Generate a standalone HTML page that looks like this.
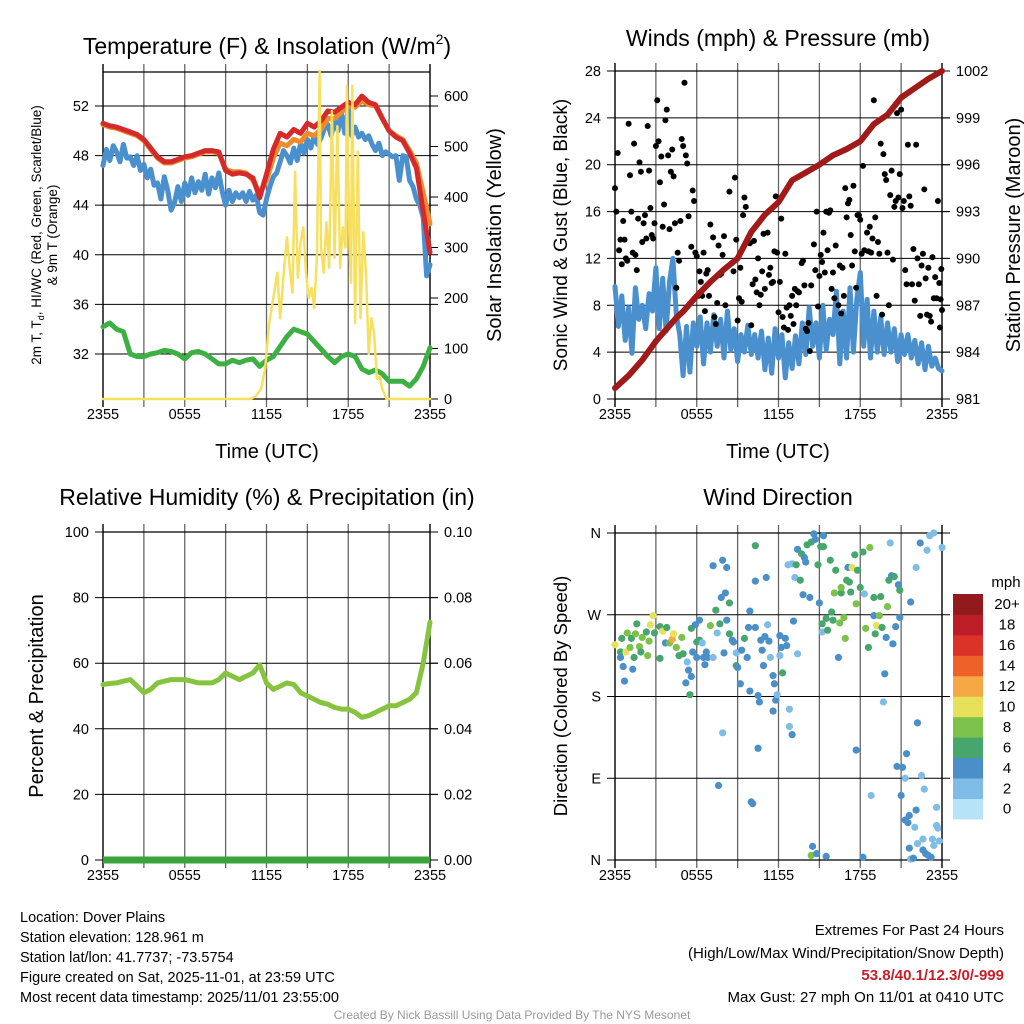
<!DOCTYPE html>
<html><head><meta charset="utf-8"><title>Mesonet Station Chart</title>
<style>
html,body{margin:0;padding:0;background:#fff;}
svg{display:block;font-family:"Liberation Sans",Arial,sans-serif;}
</style></head>
<body>
<svg id="chart" xmlns="http://www.w3.org/2000/svg" width="1024" height="1024" viewBox="0 0 1024 1024">
<rect x="0" y="0" width="1024" height="1024" fill="#fff"/>
<g id="layer"></g>

<text x="267" y="54" text-anchor="middle" font-size="23">Temperature (F) &amp; Insolation (W/m<tspan font-size="14" dy="-10">2</tspan><tspan dy="10">)</tspan></text>
<text transform="translate(41,235) rotate(-90)" text-anchor="middle" font-size="13.5">2m T, T<tspan font-size="9" dy="3">d</tspan><tspan dy="-3">, HI/WC (Red, Green, Scarlet/Blue)</tspan></text>
<text transform="translate(57,235) rotate(-90)" text-anchor="middle" font-size="13.5">&amp; 9m T (Orange)</text>
<text transform="translate(501,235) rotate(-90)" text-anchor="middle" font-size="20">Solar Insolation (Yellow)</text>
<text x="267" y="458" text-anchor="middle" font-size="20">Time (UTC)</text>

<text x="778" y="46" text-anchor="middle" font-size="23">Winds (mph) &amp; Pressure (mb)</text>
<text transform="translate(567,235) rotate(-90)" text-anchor="middle" font-size="19">Sonic Wind &amp; Gust (Blue, Black)</text>
<text transform="translate(1020,235) rotate(-90)" text-anchor="middle" font-size="20">Station Pressure (Maroon)</text>
<text x="778" y="458" text-anchor="middle" font-size="20">Time (UTC)</text>

<text x="267" y="505" text-anchor="middle" font-size="23">Relative Humidity (%) &amp; Precipitation (in)</text>
<text transform="translate(43,696) rotate(-90)" text-anchor="middle" font-size="20">Percent &amp; Precipitation</text>

<text x="778" y="505" text-anchor="middle" font-size="23">Wind Direction</text>
<text transform="translate(567,696) rotate(-90)" text-anchor="middle" font-size="18.5">Direction (Colored By Speed)</text>
<text x="1006" y="587" text-anchor="middle" font-size="15">mph</text>

<g font-size="14.5">
<text x="20" y="922">Location: Dover Plains</text>
<text x="20" y="942">Station elevation: 128.961 m</text>
<text x="20" y="962">Station lat/lon: 41.7737; -73.5754</text>
<text x="20" y="982">Figure created on Sat, 2025-11-01, at 23:59 UTC</text>
<text x="20" y="1002">Most recent data timestamp: 2025/11/01 23:55:00</text>
</g>
<g font-size="15" text-anchor="end">
<text x="1004" y="935">Extremes For Past 24 Hours</text>
<text x="1004" y="958">(High/Low/Max Wind/Precipitation/Snow Depth)</text>
<text x="1004" y="980" fill="#c8202a" font-weight="bold">53.8/40.1/12.3/0/-999</text>
<text x="1004" y="1002">Max Gust: 27 mph On 11/01 at 0410 UTC</text>
</g>
<text x="512" y="1019" text-anchor="middle" font-size="12" fill="#999">Created By Nick Bassill Using Data Provided By The NYS Mesonet</text>
</svg>
<script>
// ---- data (half-hour steps unless noted) ----
const timeTicks = ["2355","0555","1155","1755","2355"];
const tempTicks = [32,36,40,44,48,52];
const solarTicks = [0,100,200,300,400,500,600];
const windTicks = [0,4,8,12,16,20,24,28];
const presTicks = [981,984,987,990,993,996,999,1002];
const rhTicks = [0,20,40,60,80,100];
const precipTicks = ["0.00","0.02","0.04","0.06","0.08","0.10"];
const dirTicks = ["N","E","S","W","N"];
const speedBins = ["0","2","4","6","8","10","12","14","16","18","20+"];
const speedColors = ["#b6e3f7","#80bde6","#4a8fc8","#47a66c","#7cc14a","#e6e05a","#f5a843","#ee6128","#dc3328","#bd1d26","#921a1c"];

const tempRed = [50.6,50.4,50.3,50.1,49.9,49.7,49.3,48.6,47.9,47.5,47.5,47.7,47.9,48.0,48.2,48.4,48.4,48.3,46.8,46.5,46.6,46.5,46.2,44.6,46.5,48.5,49.8,49.5,50.1,49.8,50.6,50.3,50.8,51.6,51.5,51.9,52.3,52.1,52.8,52.3,52.1,51.0,50.0,49.5,49.2,48.2,47.0,43.5,40.2];
const tempOrange = [50.5,50.3,50.2,50.0,49.8,49.6,49.2,48.5,47.8,47.4,47.4,47.6,47.8,47.9,48.1,48.3,48.3,48.2,46.9,46.7,46.7,46.6,46.0,45.0,46.0,47.8,49.0,48.8,49.3,49.1,49.8,49.6,50.1,51.0,51.0,51.5,52.0,51.9,52.4,52.1,52.0,51.0,50.0,49.6,49.3,48.4,47.4,45.0,42.5];
const tempGreen = [34.2,34.5,34.0,33.8,32.0,31.8,31.8,32.0,32.1,32.3,32.2,32.0,31.6,32.1,32.2,32.0,31.6,31.2,31.2,31.5,31.3,31.5,31.6,31.0,31.5,31.8,32.6,33.4,34.0,33.8,33.6,33.0,32.4,31.8,31.3,31.8,32.0,31.8,30.8,30.5,30.7,30.4,29.8,29.8,29.8,29.4,30.0,31.0,32.5];
// quarter-hour steps
const tempBlue = [47.2,48.5,47.6,48.8,48.3,47.5,48.9,47.8,
 47.9,47.2,48.0,46.8,47.3,46.2,46.9,45.6,
 45.8,44.5,46.3,45.2,43.6,44.2,45.5,44.3,
 45.8,44.8,46.2,45.0,45.9,45.2,46.5,44.9,
 46.2,45.4,46.6,45.1,44.0,45.2,44.3,45.0,
 44.6,45.0,44.3,45.1,44.4,44.8,43.4,43.2,
 44.5,45.5,46.3,46.6,47.5,48.4,48.0,47.4,
 48.6,47.6,49.0,48.2,49.3,48.6,49.6,48.9,
 49.4,50.2,50.5,49.6,50.9,50.0,51.5,49.8,
 51.8,49.6,50.3,49.5,49.8,49.3,49.6,48.9,
 48.4,49.0,48.0,48.3,48.1,47.9,48.0,46.0,
 48.0,47.9,46.0,45.5,44.5,44.0,43.0,38.3,39.2];
const solarHours = [0,10.8,11.2,11.6,11.9,12.2,12.5,12.8,13.0,13.3,13.5,13.7,13.9,14.1,14.3,14.5,14.7,14.9,15.1,15.3,15.5,15.7,15.9,16.0,16.2,16.4,16.6,16.8,17.0,17.2,17.4,17.6,17.8,17.9,18.1,18.2,18.3,18.5,18.7,18.9,19.1,19.3,19.5,19.7,19.9,20.1,20.3,20.5,20.8,24];
const solarValues = [0,0,5,20,60,150,200,250,160,260,320,260,210,450,240,310,340,250,200,220,180,280,650,300,250,350,260,570,280,540,260,340,300,620,300,230,620,150,490,160,330,250,90,160,130,40,45,20,0,0];

// wind: quarter-hour steps
const windSpeed = [9.6,6.2,8.8,5.0,7.8,3.9,9.5,6.8,
 8.0,6.0,9.0,7.5,11.2,6.0,10.3,5.8,
 10.0,12.0,7.2,5.5,2.0,6.2,2.3,6.5,
 4.5,7.0,3.0,6.5,4.0,7.2,4.5,6.8,
 3.5,7.5,4.2,6.0,3.2,5.5,4.0,6.3,
 3.8,5.5,3.5,5.8,2.5,5.2,2.2,6.0,
 3.5,5.5,1.8,4.8,2.6,5.4,3.0,6.5,
 3.8,7.8,4.5,6.5,3.5,8.0,4.2,6.8,
 5.5,9.2,3.0,7.5,3.5,9.5,4.0,8.5,
 10.8,4.5,8.5,3.5,7.5,4.0,7.0,3.8,
 6.5,4.0,6.0,3.2,5.5,3.8,5.5,3.5,
 5.0,3.0,4.8,2.5,4.5,2.8,3.5,2.6,2.4];
const gustHours = [0,0.1,0.2,0.3,0.4,0.5,0.6,0.7,0.8,0.9,1.0,1.1,1.2,1.3,1.4,1.5,1.6,1.7,1.8,1.9,2.0,2.1,2.2,2.3,2.4,2.5,2.6,2.7,2.8,2.9,3.0,3.1,3.2,3.3,3.4,3.5,3.6,3.7,3.8,3.9,4.0,4.1,4.2,4.3,4.4,4.5,4.6,4.7,4.8,4.9,5.0,5.1,5.2,5.3,5.4,5.6,5.7,5.8,5.9,6.0,6.1,6.2,6.3,6.4,6.5,6.6,6.7,6.8,6.9,7.0,7.2,7.3,7.4,7.5,7.6,7.7,7.8,7.9,8.0,8.1,8.4,8.7,8.8,8.9,9.0,9.1,9.2,9.3,9.4,9.5,9.6,9.7,9.9,10.0,10.1,10.2,10.3,10.4,10.5,10.6,10.7,10.8,10.9,11.0,11.2,11.3,11.4,11.5,11.6,11.7,11.8,11.9,12.0,12.1,12.2,12.3,12.4,12.5,12.6,12.7,12.8,12.9,13.0,13.1,13.2,13.3,13.4,13.5,13.7,13.8,13.9,14.0,14.1,14.2,14.3,14.4,14.6,14.7,14.8,14.9,15.0,15.1,15.2,15.3,15.4,15.5,15.6,15.7,15.8,15.9,16.0,16.1,16.2,16.4,16.5,16.6,16.7,16.8,16.9,17.0,17.1,17.2,17.3,17.4,17.5,17.6,17.7,17.8,17.9,18.0,18.1,18.2,18.3,18.5,18.6,18.7,18.8,18.9,19.0,19.1,19.2,19.3,19.4,19.5,19.6,19.7,19.8,19.9,20.0,20.1,20.2,20.3,20.4,20.5,20.6,20.7,20.8,20.9,21.0,21.1,21.2,21.3,21.4,21.5,21.6,21.7,21.8,21.9,22.0,22.1,22.2,22.3,22.4,22.5,22.6,22.7,22.8,22.9,23.0,23.1,23.2,23.3,23.4,23.5,23.6,23.7,23.8,23.85,23.9,23.95,24.0];
const gustValues = [18,16,21,12.7,13.6,11.5,15.2,13.6,12,11.8,23.5,19.1,16,12.5,21.8,12.3,11,15.4,20.2,19.4,13.4,15,15.7,13.7,23.3,19.5,16.3,14,13.7,15,21.6,25.5,22,18.5,20.7,14.7,16.6,23.8,24.7,20.8,14.5,19.4,21.3,19,15,9.5,12.5,11.8,15.2,22.2,21.6,27,20.8,20.1,15.6,13,17.8,16.9,12.5,12.2,8.8,10.9,10,8.8,12.5,7.5,10.7,11,8.8,14.9,13.8,7,6.4,8.2,13.1,10.6,10.7,12.3,13.9,8,17.7,10.9,18.9,13.6,6.7,8.6,11.2,8.3,15.7,17.2,16.4,13.4,13.3,6.3,9.8,13.5,10.2,9.1,12,8,8.9,10.9,14.1,9.4,14.2,10.6,11.2,9.9,10,12.6,17.3,12.5,7.4,10,15.4,7,6.1,12.4,7.8,5.9,8,7.1,8.8,6.4,9.4,8,9.2,9.1,11.6,11.8,9.7,6,5.8,6.5,4.1,9.7,13.2,11,16,7.9,10.5,12.3,11.7,14.2,10.8,16,12.7,15.9,16.1,9.4,10.8,8.6,13.1,8,11.4,7.3,11.2,8.8,18,15.5,16.7,17,14,11.4,18.2,12.6,9.5,15.7,15.7,15.3,12.4,19.9,12.7,14.2,12.6,14.7,12.5,13.7,25.5,15.5,8.8,13.4,12.4,21.8,7.2,20.9,19.2,18.7,12.5,8,17.4,19.5,11.9,16.4,16.9,24.4,17.2,19.2,24.7,16.3,16.9,11,9.8,21.7,17.3,16.5,9.8,12.8,8.4,21.7,12,9.8,7.1,11.4,12.4,17.9,10.3,7.2,11.2,7.1,6.6,12.1,8.6,10.4,8.6,16.9,9.9,6.1,8.5,11.1,7.6,5.3,4.5,3.1];
const presHours = [0,1,2,3,4,4.5,5,6,7,8,9,10,11,12,13,14,15,16,17,18,19,20,21,22,23,24];
const presValues = [981.7,982.5,983.5,984.7,985.7,986.2,986.6,987.6,988.5,989.3,990.0,991.7,992.8,993.6,995.0,995.5,996.0,996.6,997.0,997.5,998.6,999.2,1000.3,1000.9,1001.5,1002.0];

const rhValues = [53.5,53.8,54,54.5,55,53,51,52,54,54.5,55,55,55,54.5,54,54,54,55,57,56,55,56,57,59.5,54,52,53,54,53.5,51,50,49,48,47.5,46.5,46,46,45,43.5,44,45,46,47,47,48,49,51,60,72.5];
const precipValues = [0,0,0,0,0,0,0,0,0,0,0,0,0,0,0,0,0,0,0,0,0,0,0,0,0];

const dirHours = [0,0.4,0.4,0.6,0.7,0.8,0.5,0.9,1.1,1.2,1.4,1.3,1.5,1.6,1.8,1.9,2.0,2.3,2.4,2.5,2.6,2.8,2.9,3.3,3.3,3.5,3.7,3.8,4.0,4.2,4.3,4.5,4.7,4.9,5.0,5.2,5.3,5.4,5.6,5.5,5.6,5.7,5.9,6.0,6.0,6.2,6.2,6.4,6.5,6.6,6.7,6.8,7.0,7.2,7.2,7.4,7.5,7.7,7.8,7.9,8.0,8.1,8.2,8.2,8.4,8.4,8.6,8.7,7.6,7.9,8.9,8.9,9.0,9.2,9.3,9.5,9.7,9.8,9.9,9.9,10.0,10.1,10.3,10.3,10.3,10.5,10.6,10.5,10.7,10.8,10.9,11.0,11.1,11.2,11.3,11.4,11.6,11.6,11.7,11.8,11.9,12.1,12.1,12.2,12.3,12.5,12.6,12.8,12.8,13.0,12.7,13.0,13.1,13.3,13.2,13.4,13.4,13.6,13.7,13.8,13.9,14.0,14.1,14.3,14.4,14.5,14.4,14.6,14.7,14.8,14.9,15.0,15.1,15.2,15.3,15.3,15.2,15.5,15.5,15.6,15.8,15.9,16.0,16.1,16.2,16.4,16.5,16.6,16.6,16.8,16.9,17.0,17.1,17.2,17.3,17.4,17.6,17.7,17.7,17.8,18.0,18.2,18.2,18.3,18.4,18.6,18.7,18.8,19.0,19.0,19.1,19.2,19.4,19.5,19.6,19.7,19.8,19.9,20.0,20.1,20.2,20.3,20.4,20.5,20.6,20.7,20.8,20.9,20.9,21.1,21.0,21.3,21.3,21.4,21.5,21.6,21.6,21.7,21.7,21.9,22.0,22.1,22.1,22.2,22.2,22.4,22.5,22.6,22.6,22.7,22.8,22.9,23.0,23.1,23.2,23.3,23.4,23.4,23.6,23.6,23.7,23.8,24.0];
const dirDegrees = [237,229,223,213,197,229,244,250,234,244,223,210,249,260,235,229,245,251,225,241,259,269,250,257,222,252,239,256,239,243,249,234,225,245,227,195,218,209,202,182,255,229,259,240,223,264,242,239,223,215,229,223,258,324,223,275,250,260,289,330,228,294,322,264,283,249,242,240,82,140,228,214,212,194,231,244,223,256,186,274,64,62,256,307,346,181,174,123,242,231,214,246,311,259,241,223,164,203,194,176,182,247,225,234,206,244,236,166,147,138,325,326,263,325,311,342,227,308,337,292,333,328,347,289,350,15,5,359,353,7,325,283,345,260,357,345,251,4,266,253,330,273,264,294,319,223,261,294,300,267,244,308,322,306,295,322,336,121,282,319,300,3,339,293,255,234,344,71,289,269,249,258,269,290,256,174,205,245,279,308,349,313,238,312,257,103,303,297,267,102,71,44,90,117,41,13,49,1,284,2,36,55,322,151,18,349,93,23,11,78,7,341,5,357,3,23,360,16,58,38,35,21,344];
const dirSpeeds = [11,7,5,5,5,11,7,9,9,7,7,5,9,7,9,7,9,7,9,9,11,11,7,7,7,11,5,7,9,13,11,9,7,9,7,5,3,5,5,7,7,5,5,7,5,5,7,3,5,5,5,5,9,5,3,7,3,7,5,5,5,5,5,5,7,7,5,5,5,3,3,7,5,5,5,7,5,5,5,5,5,5,5,5,7,5,5,5,5,5,5,5,5,3,5,3,5,5,5,5,3,5,3,5,7,5,5,3,3,5,3,3,5,7,3,5,3,7,7,5,5,5,7,5,7,5,9,5,5,5,7,5,7,7,5,7,3,5,7,7,7,7,7,9,7,5,9,7,9,9,9,7,5,7,7,11,7,5,9,7,7,5,7,3,9,7,9,3,7,5,7,11,9,7,7,3,5,5,9,7,3,5,5,7,5,5,5,7,5,5,5,5,3,5,5,5,5,3,5,5,3,5,3,5,3,5,3,3,5,3,5,3,5,3,5,3,3,3,3,3,3,3,3,3];

// ---- drawing ----
const NS = "http://www.w3.org/2000/svg";
const layer = document.getElementById('layer');
function mk(tag, attrs, parent){ const e=document.createElementNS(NS,tag); for(const k in attrs) e.setAttribute(k,attrs[k]); (parent||layer).appendChild(e); return e; }
function lin(d0,d1,r0,r1){ return v => r0+(v-d0)/(d1-d0)*(r1-r0); }

const P = {
  temp:{L:103,R:430,T:72,B:399},
  wind:{L:615,R:942,T:71,B:399},
  rh:{L:103,R:430,T:532,B:860},
  dir:{L:615,R:942,T:533,B:860}
};
function frame(p, name, yVals, yFn, leftLabels, rightVals, rightFn, rightLabels){
  const g = mk('g',{});
  
  
  const xs = lin(0,24,p.L,p.R);
  for(let h=0;h<=24;h+=3){
    const x = xs(h);
    const l = mk('line',{x1:x,x2:x,y1:p.T-8,y2:p.B+8,stroke:(h%24===0)?'#000':'#666','stroke-width':(h%24===0)?1.4:1.3},g);
    
    
  }
  timeTicks.forEach((lab,i)=>{
    const t = mk('text',{x:xs(i*6),y:p.B+20,'text-anchor':'middle','font-size':14.5},g);
    t.textContent = lab;
    
    
  });
  const top = mk('line',{x1:p.L,x2:p.R,y1:p.T,y2:p.T,stroke:'#000','stroke-width':1.2},g);
  
  
  const bot = mk('line',{x1:p.L,x2:p.R,y1:p.B,y2:p.B,stroke:'#000','stroke-width':1.2},g);
  
  
  yVals.forEach((v,i)=>{
    const y = yFn(v);
    const l = mk('line',{x1:p.L-8,x2:p.R+(rightFn?8:8),y1:y,y2:y,stroke:'#000','stroke-width':1},g);
    
    
    const t = mk('text',{x:p.L-14,y:y+5,'text-anchor':'end','font-size':14.5},g);
    t.textContent = leftLabels[i];
    
    
  });
  if(rightVals){
    rightVals.forEach((v,i)=>{
      const y = rightFn(v);
      const l = mk('line',{x1:p.R,x2:p.R+8,y1:y,y2:y,stroke:'#000','stroke-width':1},g);
      
      
      const t = mk('text',{x:p.R+14,y:y+5,'text-anchor':'start','font-size':14.5},g);
      t.textContent = rightLabels[i];
      
      
    });
  }
  return xs;
}
function poly(xs, ys, xFn, yFn, attrs, name){
  const pts = xs.map((t,i)=>xFn(t).toFixed(1)+','+yFn(ys[i]).toFixed(1)).join(' ');
  const a = Object.assign({points:pts,fill:'none','stroke-linejoin':'round','stroke-linecap':'round'},attrs);
  const e = mk('polyline',a);
  
  
  return e;
}
const half = n => Array.from({length:n},(_,i)=>i*0.5);
const quarter = n => Array.from({length:n},(_,i)=>i*0.25);

// Temperature panel
const pt = P.temp;
const yT = lin(28.37,54.74,pt.B,pt.T);
const yS = lin(0,647.5,pt.B,pt.T);
const xT = frame(pt,'temperature',tempTicks,yT,tempTicks.map(String),solarTicks,yS,solarTicks.map(String));
poly(half(tempGreen.length),tempGreen,xT,yT,{stroke:'#3cb043','stroke-width':5},'dewpoint-line');
poly(quarter(tempBlue.length),tempBlue,xT,yT,{stroke:'#4a90cf','stroke-width':5},'windchill-line');
poly(half(tempOrange.length),tempOrange,xT,yT,{stroke:'#f08a2a','stroke-width':5},'temp-9m-line');
poly(half(tempRed.length),tempRed,xT,yT,{stroke:'#d42a2a','stroke-width':5},'temp-2m-line');
poly(solarHours,solarValues,xT,yS,{stroke:'#f7e060','stroke-width':2.5},'solar-line');

// Wind panel
const pw = P.wind;
const yW = lin(0,28,pw.B,pw.T);
const yP = lin(981,1002,pw.B,pw.T);
const xW = frame(pw,'wind',windTicks,yW,windTicks.map(String),presTicks,yP,presTicks.map(String));
poly(quarter(windSpeed.length),windSpeed,xW,yW,{stroke:'#4a90cf','stroke-width':5},'wind-speed-line');
gustHours.forEach((t,i)=>{
  const c = mk('circle',{cx:xW(t),cy:yW(gustValues[i]),r:3,fill:'#000'});
  
  
});
poly(presHours,presValues,xW,yP,{stroke:'#a01a1a','stroke-width':6},'pressure-line');

// RH panel
const pr = P.rh;
const yR = lin(0,100,pr.B,pr.T);
const xR = frame(pr,'humidity',rhTicks,yR,rhTicks.map(String),rhTicks,yR,precipTicks);
poly(half(rhValues.length),rhValues,xR,yR,{stroke:'#86c440','stroke-width':5},'humidity-line');
poly(precipValues.map((_,i)=>i),precipValues,xR,v=>yR(v*1000),{stroke:'#3aa33a','stroke-width':7,'stroke-linecap':'butt'},'precipitation-line');

// Direction panel
const pd = P.dir;
const yD = lin(0,360,pd.B,pd.T);
const xD = frame(pd,'direction',[0,90,180,270,360],yD,dirTicks,null,null,null);
dirHours.forEach((t,i)=>{
  const bin = Math.min(10,Math.floor(dirSpeeds[i]/2));
  const c = mk('circle',{cx:xD(t),cy:yD(dirDegrees[i]),r:3.6,fill:speedColors[bin]});
  
  
});
// colorbar
const cbTop=594, cbH=20.45;
speedBins.forEach((lab,i)=>{
  const k = speedBins.length-1-i;
  const y = cbTop + k*cbH;
  const r = mk('rect',{x:953,y:y,width:30,height:cbH+0.5,fill:speedColors[i]});
  
  
  const t = mk('text',{x:1007,y:y+cbH/2+5,'text-anchor':'middle','font-size':15});
  t.textContent = lab;
  
  
});
</script>
</body></html>
